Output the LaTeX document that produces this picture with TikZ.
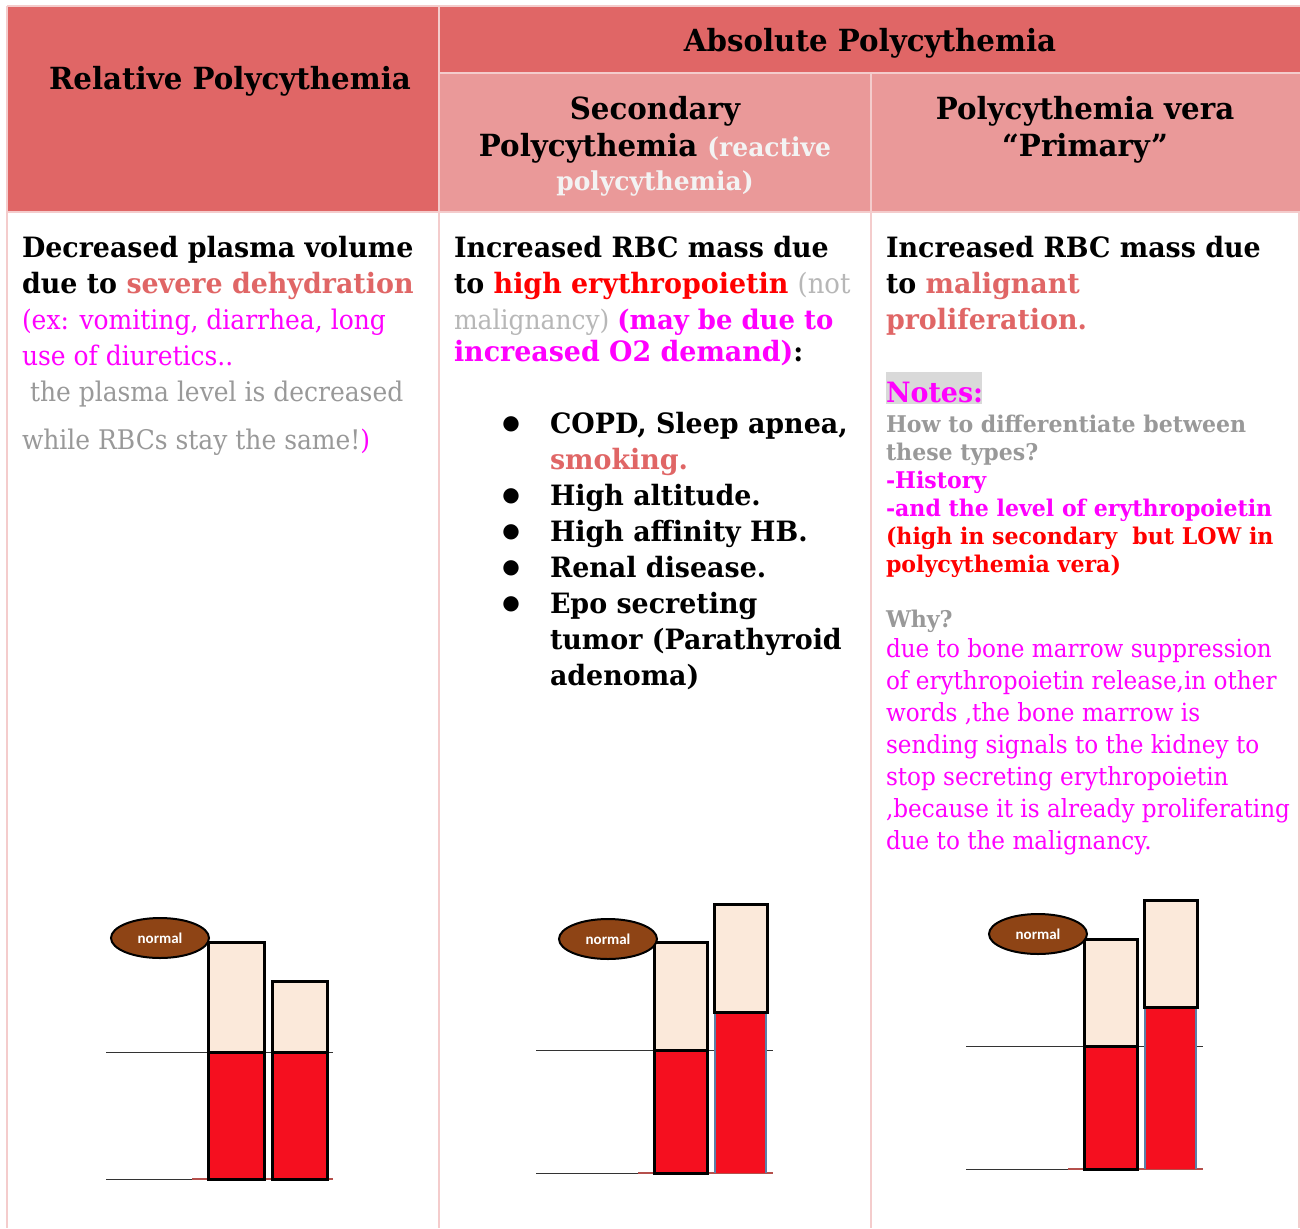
\documentclass[tikz,border=0pt]{standalone}
\usepackage{fontspec}
\setmainfont[FakeStretch=0.925, BoldFeatures={FakeStretch=0.96}]{DejaVu Serif}
\newfontfamily\normfont{Carlito}
\newfontfamily\symfont{DejaVu Sans}
\usetikzlibrary{shapes.geometric}
\definecolor{hdark}{HTML}{E06666}
\definecolor{hlight}{HTML}{EA9999}
\definecolor{bord}{HTML}{F4CCCC}
\definecolor{salmon}{HTML}{E06666}
\definecolor{mag}{HTML}{FF00FF}
\definecolor{gry}{HTML}{999999}
\definecolor{lgry}{HTML}{B7B7B7}
\definecolor{wh}{HTML}{F3F3F3}
\definecolor{rd}{HTML}{FF0000}
\definecolor{plasma}{HTML}{FBE9DA}
\definecolor{blood}{HTML}{F50F1F}
\definecolor{brn}{HTML}{8E4415}
\definecolor{steel}{HTML}{5B80A8}
\definecolor{baseln}{HTML}{B5504C}
\definecolor{notebg}{HTML}{D9D9D9}
\begin{document}
\begin{tikzpicture}[x=1pt,y=-1pt,
  txt/.style={anchor=base west, inner sep=0pt, outer sep=0pt},
  hd/.style={anchor=base, inner sep=0pt, font=\fontsize{30.5}{36}\selectfont\bfseries},
  bd/.style={txt, font=\fontsize{28}{36}\selectfont\bfseries},
  rg/.style={txt, font=\fontsize{27}{36}\selectfont},
  sm/.style={txt, font=\fontsize{23}{28}\selectfont\bfseries},
  rs/.style={txt, font=\fontsize{25}{32}\selectfont},
  bul/.style={anchor=base, inner sep=0pt, font=\symfont\fontsize{20}{20}\selectfont},
  lvl/.style={draw=black!80, line width=1pt},
  barout/.style={draw=black, line width=3pt},
  norm/.style={ellipse, draw=black, line width=2pt, fill=brn, minimum width=98pt, minimum height=40pt, inner sep=0pt, text=white, font=\normfont\bfseries\fontsize{15}{15}\selectfont}
]
\useasboundingbox (0,0) rectangle (1300,1228);
\fill[white] (0,0) rectangle (1300,1228);
% header cells
\fill[hdark] (7,7) rectangle (439,212);
\fill[hdark] (439,7) rectangle (1300,73);
\fill[hlight] (439,73) rectangle (1300,212);
% borders
\draw[bord, line width=2pt] (7,6) -- (1300,6);
\draw[bord, line width=2pt] (7,6) -- (7,1228);
\draw[bord, line width=2pt] (439,6) -- (439,1228);
\draw[bord, line width=2pt] (871,73) -- (871,1228);
\draw[bord, line width=2pt] (439,73) -- (1300,73);
\draw[bord, line width=2pt] (7,212) -- (1300,212);
\draw[bord, line width=2pt] (1299,212) -- (1299,1228);

% headers
\node[hd] (hrel) at (230,90) {Relative Polycythemia};
\node[hd] (habs) at (870,52) {Absolute Polycythemia};
\node[hd] (hsec1) at (655,120) {Secondary};
\node[hd] (hsec2) at (655,157) {Polycythemia {\color{wh}\fontsize{26}{30}\selectfont(reactive}};
\node[hd, text=wh, font=\fontsize{26}{30}\selectfont\bfseries] (hsec3) at (655,190) {polycythemia)};
\node[hd] (hpv1) at (1085,120) {Polycythemia vera};
\node[hd] (hpv2) at (1085,157) {“Primary”};

% column 1
\node[bd] (a1) at (22,257) {Decreased plasma volume};
\node[bd] (a2) at (22,293) {due to {\color{salmon}severe dehydration}};
\node[rg, text=mag] (a3) at (22,329) {(ex: vomiting, diarrhea, long};
\node[rg, text=mag] (a4) at (22,365) {use of diuretics..};
\node[rg, text=gry] (a5) at (30,401) {the plasma level is decreased};
\node[rg, text=gry] (a6) at (22,449) {while RBCs stay the same!{\color{mag})}};

% column 2
\node[bd] (b1) at (454,257) {Increased RBC mass due};
\node[bd] (b2) at (454,293) {to {\color{rd}high erythropoietin} {\mdseries\color{lgry}(not}};
\node[rg] (b3) at (454,329) {{\color{lgry}malignancy)} {\bfseries\color{mag}(may be due to}};
\node[bd] (b4) at (454,361) {{\color{mag}increased O2 demand)}:};
\foreach \yy/\nm in {433/c1,505/c2,541/c3,577/c4,613/c5} \node[bul] (\nm) at (511,\yy-4) {●};
\node[bd] (l1) at (550,433) {COPD, Sleep apnea,};
\node[bd, text=salmon] (l2) at (550,469) {smoking.};
\node[bd] (l3) at (550,505) {High altitude.};
\node[bd] (l4) at (550,541) {High affinity HB.};
\node[bd] (l5) at (550,577) {Renal disease.};
\node[bd] (l6) at (550,613) {Epo secreting};
\node[bd] (l7) at (550,649) {tumor (Parathyroid};
\node[bd] (l8) at (550,685) {adenoma)};

% column 3
\node[bd] (d1) at (886,257) {Increased RBC mass due};
\node[bd] (d2) at (886,293) {to {\color{salmon}malignant}};
\node[bd, text=salmon] (d3) at (886,329) {proliferation.};
\fill[notebg] (886,372) rectangle (982,404);
\node[bd, text=mag] (d4) at (886,402) {Notes:};
\node[sm, text=gry] (d5) at (886,432) {How to differentiate between};
\node[sm, text=gry] (d6) at (886,460) {these types?};
\node[sm, text=mag] (d7) at (886,488) {-History};
\node[sm, text=mag] (d8) at (886,516) {-and the level of erythropoietin};
\node[sm, text=rd] (d9) at (886,544) {(high in secondary\ \ but LOW in};
\node[sm, text=rd] (d10) at (886,572) {polycythemia vera)};
\node[sm, text=gry] (d11) at (886,627) {Why?};
\node[rs, text=mag] (e1) at (886,657) {due to bone marrow suppression};
\node[rs, text=mag] (e2) at (886,689) {of erythropoietin release,in other};
\node[rs, text=mag] (e3) at (886,721) {words ,the bone marrow is};
\node[rs, text=mag] (e4) at (886,753) {sending signals to the kidney to};
\node[rs, text=mag] (e5) at (886,785) {stop secreting erythropoietin};
\node[rs, text=mag] (e6) at (886,817) {,because it is already proliferating};
\node[rs, text=mag] (e7) at (886,849) {due to the malignancy.};

% chart 1
\draw[lvl] (106,1052) -- (333,1052);
\draw[lvl] (106,1179) -- (333,1179);
\draw[baseln, line width=2.5pt] (192,1179) -- (333,1179);
\fill[blood] (208,1052) rectangle (264,1179);
\fill[plasma] (208,942) rectangle (264,1052);
\draw[barout] (208,1179) rectangle (264,942);
\draw[barout] (208,1052) -- (264,1052);
\fill[blood] (272,1052) rectangle (327,1179);
\fill[plasma] (272,981) rectangle (327,1052);
\draw[barout] (272,1179) rectangle (327,981);
\draw[barout] (272,1052) -- (327,1052);
\node[norm] (n1) at (160,938) {normal};

% chart 2
\draw[lvl] (536,1050) -- (773,1050);
\draw[lvl] (536,1173) -- (773,1173);
\draw[baseln, line width=2.5pt] (638,1173) -- (773,1173);
\fill[blood] (654,1050) rectangle (707,1173);
\fill[plasma] (654,942) rectangle (707,1050);
\draw[barout] (654,1173) rectangle (707,942);
\draw[barout] (654,1050) -- (707,1050);
\fill[blood] (714,1012) rectangle (767,1173);
\draw[steel, line width=2pt] (715,1012) -- (715,1173);
\draw[steel, line width=2pt] (766,1012) -- (766,1173);
\fill[plasma] (714,904) rectangle (767,1012);
\draw[barout] (714,904) rectangle (767,1012);
\node[norm] (n2) at (608,939) {normal};

% chart 3
\draw[lvl] (966,1046) -- (1203,1046);
\draw[lvl] (966,1169) -- (1203,1169);
\draw[baseln, line width=2.5pt] (1068,1169) -- (1203,1169);
\fill[blood] (1084,1046) rectangle (1137,1169);
\fill[plasma] (1084,939) rectangle (1137,1046);
\draw[barout] (1084,1169) rectangle (1137,939);
\draw[barout] (1084,1046) -- (1137,1046);
\fill[blood] (1144,1007) rectangle (1197,1169);
\draw[steel, line width=2pt] (1145,1007) -- (1145,1169);
\draw[steel, line width=2pt] (1196,1007) -- (1196,1169);
\fill[plasma] (1144,900) rectangle (1197,1007);
\draw[barout] (1144,900) rectangle (1197,1007);
\node[norm] (n3) at (1038,934) {normal};
\end{tikzpicture}
\end{document}
